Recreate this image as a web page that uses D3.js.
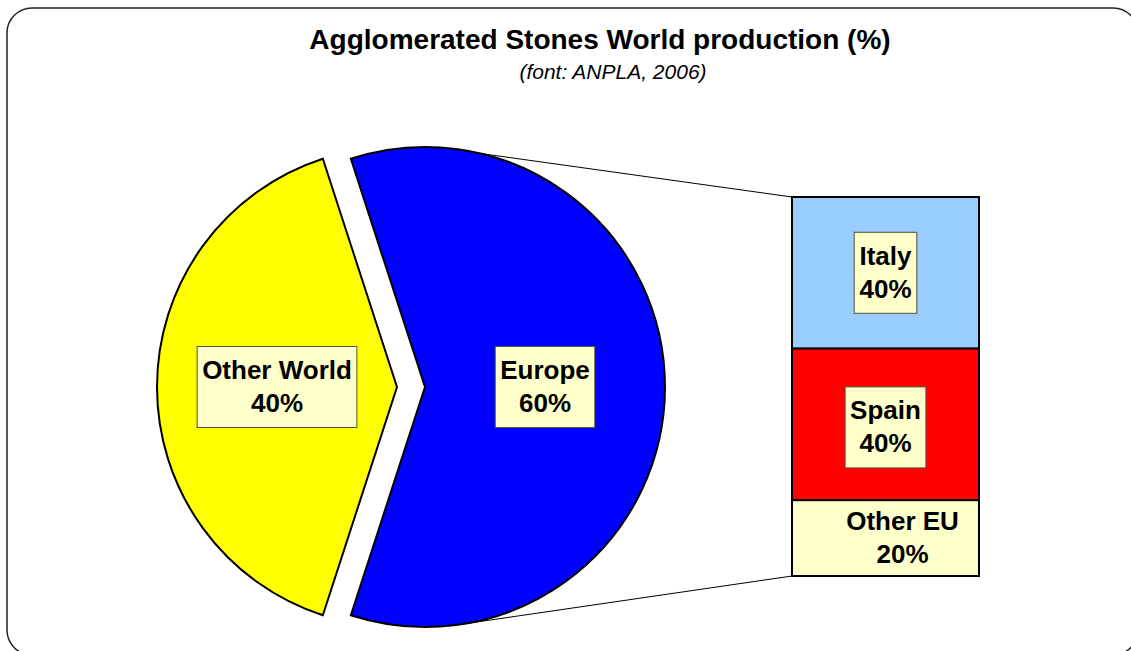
<!DOCTYPE html>
<html>
<head>
<meta charset="utf-8">
<script src="https://cdn.jsdelivr.net/npm/d3@7"></script>
<style>
  body { margin: 0; background: #fff; }
  svg text { font-family: "Liberation Sans", Arial, sans-serif; }
</style>
</head>
<body>
<div class="chart"></div>
<script>
// data
var pieCategories = ["Europe", "Other World"];
var pieValues = [60, 40];
var barCategories = ["Italy", "Spain", "Other EU"];
var barValues = [40, 40, 20];

var pieColors = ["#0000ff", "#ffff00"];
var barColors = ["#99ccff", "#ff0000", "#ffffcc"];

var svg_width = 1131, svg_height = 651;

var svg = d3.select(".chart")
    .append("svg")
    .attr("width", svg_width)
    .attr("height", svg_height);

// outer frame
svg.append("rect")
    .attr("x", 7).attr("y", 8)
    .attr("width", 1131).attr("height", 647)
    .attr("rx", 25).attr("ry", 25)
    .attr("fill", "#fff")
    .attr("stroke", "#222")
    .attr("stroke-width", 1.5);

svg.append("text")
    .attr("x", 600).attr("y", 49)
    .attr("text-anchor", "middle")
    .attr("font-size", 28)
    .attr("font-weight", "bold")
    .text("Agglomerated Stones World production (%)");

svg.append("text")
    .attr("x", 613).attr("y", 79)
    .attr("text-anchor", "middle")
    .attr("font-size", 21)
    .attr("font-style", "italic")
    .text("(font: ANPLA, 2006)");

// pie
var cx = 425, cy = 387, radius = 240, explode = 28;

var pie = d3.pie()
    .sort(null)
    .startAngle(-18 * Math.PI / 180)
    .endAngle(342 * Math.PI / 180);

var arc = d3.arc().innerRadius(0).outerRadius(radius);
var labelArc = d3.arc().innerRadius(radius * 0.5).outerRadius(radius * 0.5);

var arcs = pie(pieValues);

var g = svg.append("g")
    .attr("transform", "translate(" + cx + "," + cy + ")");

function offset(d, i) {
    if (i === 0) return [0, 0];
    var mid = (d.startAngle + d.endAngle) / 2;
    return [Math.sin(mid) * explode, -Math.cos(mid) * explode];
}

// bar scale
var barX = 792, barW = 187;
var yBar = d3.scaleLinear().domain([0, d3.sum(barValues)]).range([197, 576]);
var stacked = [];
var acc = 0;
barValues.forEach(function (v, i) {
    stacked.push({ name: barCategories[i], value: v, y0: acc, y1: acc + v });
    acc += v;
});

// connector lines from the Europe slice to the bar
var lineAngles = [13.3 * Math.PI / 180, 172 * Math.PI / 180];
var lineEnds = [yBar(0), yBar(d3.sum(barValues))];
lineAngles.forEach(function (a, i) {
    svg.append("line")
        .attr("x1", cx + Math.sin(a) * radius)
        .attr("y1", cy - Math.cos(a) * radius)
        .attr("x2", barX)
        .attr("y2", lineEnds[i])
        .attr("stroke", "#000")
        .attr("stroke-width", 1);
});

g.selectAll(".slice")
    .data(arcs)
    .enter()
    .append("path")
    .attr("class", "slice")
    .attr("transform", function (d, i) {
        var o = offset(d, i);
        return "translate(" + o[0] + "," + o[1] + ")";
    })
    .attr("d", arc)
    .attr("fill", function (d, i) { return pieColors[i]; })
    .attr("stroke", "#000")
    .attr("stroke-width", 2)
    .attr("stroke-linejoin", "miter");

svg.selectAll(".seg")
    .data(stacked)
    .enter()
    .append("rect")
    .attr("class", "seg")
    .attr("x", barX)
    .attr("y", function (d) { return yBar(d.y0); })
    .attr("width", barW)
    .attr("height", function (d) { return yBar(d.y1) - yBar(d.y0); })
    .attr("fill", function (d, i) { return barColors[i]; })
    .attr("stroke", "#000")
    .attr("stroke-width", 2);

// labels
function drawLabel(x, y, name, value, boxed) {
    var lg = svg.append("g").attr("transform", "translate(" + x + "," + y + ")");
    var box = lg.append("rect");
    var t = lg.append("text")
        .attr("text-anchor", "middle")
        .attr("font-size", 26)
        .attr("font-weight", "bold");
    t.append("tspan").attr("x", 0).attr("y", -8).text(name);
    t.append("tspan").attr("x", 0).attr("y", 25).text(value + "%");
    var w = t.node().getBBox().width + 10;
    if (boxed) {
        box.attr("x", -w / 2).attr("y", -40.5)
            .attr("width", w).attr("height", 81)
            .attr("fill", "#ffffcc")
            .attr("stroke", "#555533")
            .attr("stroke-width", 1);
    }
}

arcs.forEach(function (d, i) {
    var o = offset(d, i);
    var c = labelArc.centroid(d);
    drawLabel(cx + c[0] + o[0], cy + c[1] + o[1], pieCategories[i], pieValues[i], true);
});

stacked.forEach(function (d, i) {
    var last = i === stacked.length - 1;
    var lx = barX + barW / 2 + (last ? 17 : 0);
    var ly = (yBar(d.y0) + yBar(d.y1)) / 2 + (i === 1 ? 3 : 0);
    drawLabel(lx, ly, d.name, d.value, !last);
});
</script>
</body>
</html>
